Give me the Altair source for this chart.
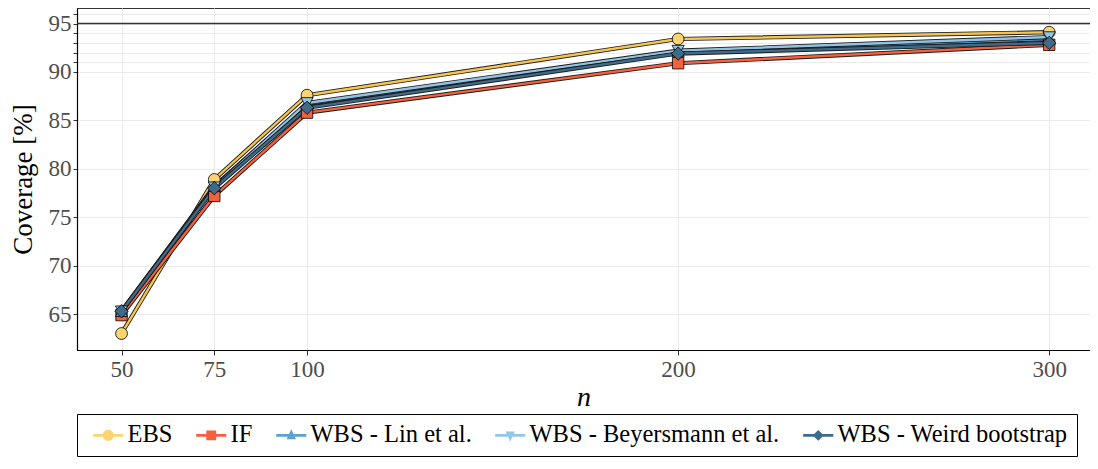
import altair as alt
import pandas as pd

n_values = [50, 75, 100, 200, 300]
series_names = ["EBS", "IF", "WBS - Lin et al.", "WBS - Beyersmann et al.", "WBS - Weird bootstrap"]
ebs = [63.0, 78.9, 87.6, 93.4, 94.1]
if_vals = [64.9, 77.2, 85.8, 90.9, 92.8]
lin = [65.3, 78.2, 86.7, 92.1, 93.4]
bey = [65.3, 78.1, 86.8, 92.2, 93.6]
weird = [65.3, 78.0, 86.3, 91.9, 93.0]
y_ticks = [65, 70, 75, 80, 85, 90, 91, 92, 93, 94, 95, 96]
reference_line = [95]

line_colors = ["#F5C451", "#F4613E", "#5B9FCE", "#92C3E4", "#3F6B8B"]
fill_colors = ["#FDD46F", "#F4613E", "#5EA2D1", "#95C6E6", "#3F6B8B"]
point_shapes = ["circle", "square", "triangle-up", "triangle-down", "diamond"]
point_sizes = [140, 130, 150, 150, 180]

legend_paths = [
    "M-2.75,-0.25L-0.97,-0.25A1,1 0 0,1 0.97,-0.25L2.75,-0.25L2.75,0.25L0.97,0.25A1,1 0 0,1 -0.97,0.25L-2.75,0.25Z",
    "M-2.75,-0.25L-0.9,-0.25L-0.9,-0.9L0.9,-0.9L0.9,-0.25L2.75,-0.25L2.75,0.25L0.9,0.25L0.9,0.9L-0.9,0.9L-0.9,0.25L-2.75,0.25Z",
    "M-2.75,-0.25L-0.4,-0.25L0,-1.1L0.4,-0.25L2.75,-0.25L2.75,0.25L0.64,0.25L0.85,0.7L-0.85,0.7L-0.64,0.25L-2.75,0.25Z",
    "M-2.75,0.25L-0.4,0.25L0,1.1L0.4,0.25L2.75,0.25L2.75,-0.25L0.64,-0.25L0.85,-0.7L-0.85,-0.7L-0.64,-0.25L-2.75,-0.25Z",
    "M-2.75,-0.25L-0.75,-0.25L0,-1L0.75,-0.25L2.75,-0.25L2.75,0.25L0.75,0.25L0,1L-0.75,0.25L-2.75,0.25Z",
]

all_vals = [ebs, if_vals, lin, bey, weird]
rows = []
for name, vals in zip(series_names, all_vals):
    for n, v in zip(n_values, vals):
        rows.append({"n": n, "coverage": v, "method": name})
df = pd.DataFrame(rows)

FONT = "Liberation Serif"

x_enc = alt.X(
    "n:Q",
    scale=alt.Scale(domain=[38, 311], nice=False, zero=False),
    axis=alt.Axis(values=n_values, title="n", titleFontStyle="italic", titleFontSize=28,
                  titlePadding=2, labelPadding=3, tickSize=5),
)
y_enc = alt.Y(
    "coverage:Q",
    scale=alt.Scale(domain=[61.3, 96.6], nice=False, zero=False),
    axis=alt.Axis(values=y_ticks, title="Coverage [%]", titleFontSize=27,
                  labelExpr="datum.value % 5 == 0 ? datum.label : ''",
                  titlePadding=11, labelPadding=2, tickSize=4),
)

layers = []
rule = alt.Chart(pd.DataFrame({"coverage": reference_line})).mark_rule(
    color="#333333", strokeWidth=1.5
).encode(y=y_enc)
layers.append(rule)

for name, lc in zip(series_names, line_colors):
    base = alt.Chart(df).transform_filter(alt.datum.method == name)
    layers.append(base.mark_line(color="#1a1a1a", strokeWidth=4.2).encode(x=x_enc, y=y_enc))
    layers.append(base.mark_line(color=lc, strokeWidth=2.4).encode(x=x_enc, y=y_enc))

for name, fc, shp, sz in zip(series_names, fill_colors, point_shapes, point_sizes):
    base = alt.Chart(df).transform_filter(alt.datum.method == name)
    layers.append(
        base.mark_point(filled=True, shape=shp, size=sz, fill=fc, stroke="black",
                        strokeWidth=0.8, opacity=1).encode(x=x_enc, y=y_enc)
    )

legend = alt.Legend(
    orient="none", legendX=0, legendY=406, direction="horizontal", columns=5,
    title=None, strokeColor="black", padding=9,
    labelFont=FONT, labelFontSize=24.5, labelColor="black", labelOffset=7,
    symbolSize=120, symbolOpacity=1, symbolStrokeColor="#222222", symbolStrokeWidth=0.7,
    symbolOffset=10, columnPadding=16, labelLimit=400,
)
legend_layer = alt.Chart(df).mark_point(filled=True, opacity=0).encode(
    x=x_enc, y=y_enc,
    color=alt.Color("method:N", scale=alt.Scale(domain=series_names, range=fill_colors), legend=legend),
    shape=alt.Shape("method:N", scale=alt.Scale(domain=series_names, range=legend_paths), legend=legend),
)
layers.append(legend_layer)

chart = alt.layer(*layers).properties(
    width=1013, height=342,
    autosize=alt.AutoSizeParams(type="none"),
    padding={"left": 69, "top": 0, "right": 0, "bottom": 111},
    background="white",
).configure_axis(
    labelFont=FONT, labelFontSize=23, labelColor="#4D4D4D",
    titleFont=FONT, titleColor="black", titleFontWeight="normal",
    gridColor="#EBEBEB", gridWidth=1, tickColor="#333333", domainColor="black", domainWidth=1.2,
).configure_view(stroke="#333333", strokeWidth=1)

chart.save("out.html", embed_options={"renderer": "svg", "actions": False})
